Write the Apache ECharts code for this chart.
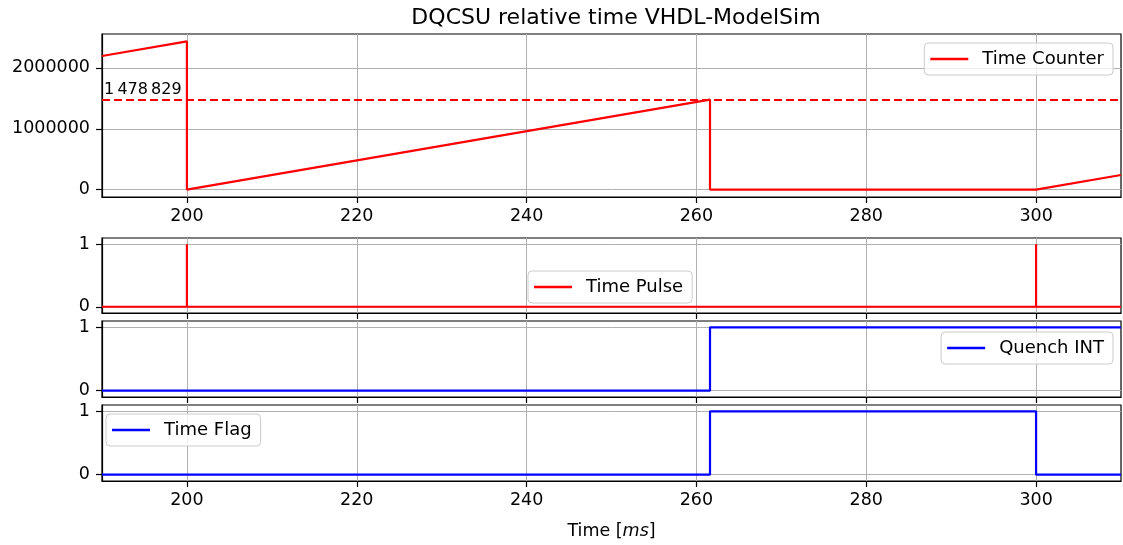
<!DOCTYPE html>
<html>
<head>
<meta charset="utf-8">
<script src="https://cdn.jsdelivr.net/npm/echarts@6/dist/echarts.min.js"></script>
<style>
  html, body { margin: 0; padding: 0; background: #fff; }
  #chart { width: 1123px; height: 545px; }
</style>
</head>
<body>
<div id="chart"></div>
<script>
// time axis [ms]
const xTicks = [200, 220, 240, 260, 280, 300];
// time counter
const counterT = [190, 200, 200, 261.6, 261.6, 300, 310];
const counterV = [2196000, 2436000, 0, 1478829, 0, 0, 240000];
const counterTicks = [0, 1000000, 2000000];
const thresholdValue = 1478829;
// time pulse
const pulseT = [190, 200, 200, 200, 300, 300, 300, 310];
const pulseV = [0, 0, 1, 0, 0, 1, 0, 0];
// quench INT
const quenchT = [190, 261.6, 261.6, 310];
const quenchV = [0, 0, 1, 1];
// time flag
const flagT = [190, 261.6, 261.6, 300, 300, 310];
const flagV = [0, 0, 1, 1, 0, 0];
const binaryTicks = [0, 1];

const FONT = 'DejaVu Sans';

function pairs(t, v) {
  return t.map((x, i) => [x, v[i]]);
}

// grid layout (px)
const grids = [
  {top: 34, height: 163},
  {top: 238, height: 75},
  {top: 321, height: 76},
  {top: 405, height: 76}
];

function xAxis(i, showLabel) {
  return {
    type: 'value',
    gridIndex: i,
    min: 190,
    max: 310,
    axisLine: {show: true, onZero: false, lineStyle: {color: '#000', width: 1.2}},
    axisTick: {show: true, inside: false, length: 6, customValues: xTicks, lineStyle: {color: '#000', width: 1.2}},
    axisLabel: {show: showLabel, customValues: xTicks, margin: 10, color: '#000', fontFamily: FONT, fontSize: 17.5},
    splitLine: {show: true, lineStyle: {color: '#b0b0b0', width: 1}}
  };
}

function yAxis(i, min, max, ticks) {
  return {
    type: 'value',
    gridIndex: i,
    min: min,
    max: max,
    axisLine: {show: true, onZero: false, lineStyle: {color: '#000', width: 1.2}},
    axisTick: {show: true, inside: false, length: 6, customValues: ticks, lineStyle: {color: '#000', width: 1.2}},
    axisLabel: {
      customValues: ticks, margin: 12, color: '#000', fontFamily: FONT, fontSize: 17.5,
      formatter: v => String(v)
    },
    splitLine: {show: true, lineStyle: {color: '#b0b0b0', width: 1}}
  };
}

function legend(name, pos) {
  return Object.assign({
    data: [name],
    orient: 'vertical',
    padding: [7, 9, 7, 6],
    icon: 'rect',
    itemWidth: 38,
    itemHeight: 2.4,
    backgroundColor: 'rgba(255,255,255,0.8)',
    borderColor: '#cccccc',
    borderWidth: 1,
    borderRadius: 4,
    selectedMode: false,
    textStyle: {color: '#000', fontFamily: FONT, fontSize: 18, padding: [0, 0, 0, 9]}
  }, pos);
}

function line(name, i, data, color) {
  return {
    name: name,
    type: 'line',
    xAxisIndex: i,
    yAxisIndex: i,
    data: data,
    symbol: 'none',
    animation: false,
    lineStyle: {color: color, width: 2.2},
    itemStyle: {color: color}
  };
}

const chart = echarts.init(document.getElementById('chart'), null, {renderer: 'canvas'});

const counterSeries = line('Time Counter', 0, pairs(counterT, counterV), '#ff0000');
counterSeries.markLine = {
  silent: true,
  symbol: 'none',
  animation: false,
  lineStyle: {color: '#ff0000', type: [8, 4], width: 2},
  label: {
    show: true,
    position: 'insideStartTop',
    distance: [2, 2],
    color: '#000',
    fontFamily: FONT,
    fontSize: 16,
    formatter: () => '1\u2009478\u2009829'
  },
  data: [{yAxis: thresholdValue}]
};

const option = {
  backgroundColor: '#fff',
  animation: false,
  title: {
    text: 'DQCSU relative time VHDL-ModelSim',
    left: 611,
    textAlign: 'center',
    top: 2,
    textStyle: {color: '#000', fontFamily: FONT, fontSize: 22, fontWeight: 'normal'}
  },
  grid: grids.map(g => ({
    left: 102, width: 1019, top: g.top, height: g.height,
    show: true, borderColor: '#000', borderWidth: 1.2, backgroundColor: 'transparent'
  })),
  legend: [
    legend('Time Counter', {right: 10, top: 43}),
    legend('Time Pulse', {left: 528, top: 271}),
    legend('Quench INT', {right: 10, top: 332}),
    legend('Time Flag', {left: 106, top: 414})
  ],
  xAxis: [
    xAxis(0, true),
    xAxis(1, false),
    xAxis(2, false),
    Object.assign(xAxis(3, true), {
      name: '{n|Time [}{i|ms}{n|]}',
      nameLocation: 'middle',
      nameGap: 41,
      nameTextStyle: {
        rich: {
          n: {color: '#000', fontFamily: FONT, fontSize: 17.5},
          i: {color: '#000', fontFamily: FONT, fontSize: 17.5, fontStyle: 'italic'}
        }
      }
    })
  ],
  yAxis: [
    yAxis(0, -121800, 2557800, counterTicks),
    yAxis(1, -0.1, 1.1, binaryTicks),
    yAxis(2, -0.1, 1.1, binaryTicks),
    yAxis(3, -0.1, 1.1, binaryTicks)
  ],
  series: [
    counterSeries,
    line('Time Pulse', 1, pairs(pulseT, pulseV), '#ff0000'),
    line('Quench INT', 2, pairs(quenchT, quenchV), '#0000ff'),
    line('Time Flag', 3, pairs(flagT, flagV), '#0000ff')
  ]
};

chart.setOption(option);
</script>
</body>
</html>
